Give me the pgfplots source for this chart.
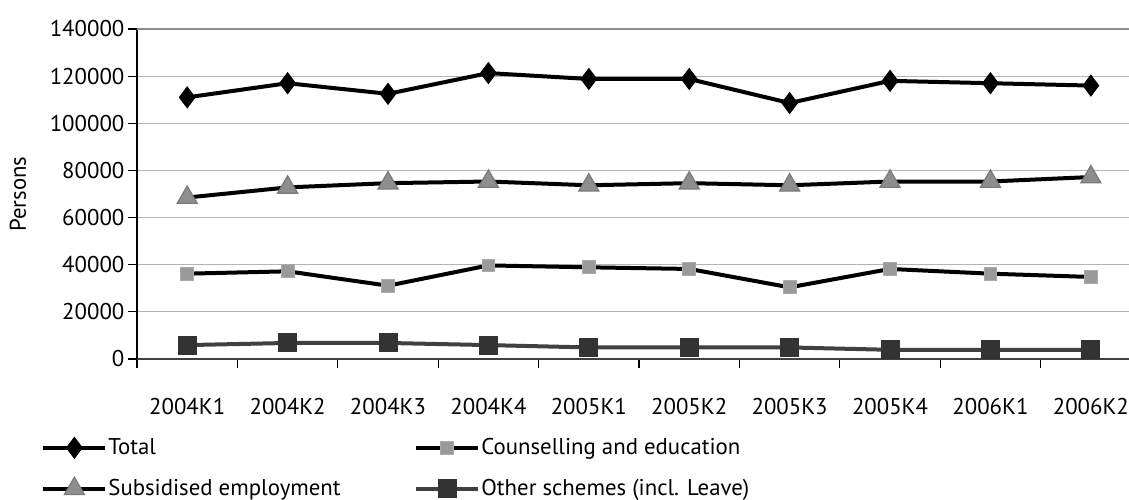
\documentclass[border=0pt]{standalone}
\usepackage{fontspec}
\setmainfont{PT Sans}
\usepackage{pgfplots}
\pgfplotsset{compat=1.18}
\definecolor{gridgray}{HTML}{B4B4B4}
\definecolor{topgray}{HTML}{8C8C8C}
\definecolor{trifill}{HTML}{8E8E8E}
\definecolor{triedge}{HTML}{7A7A7A}
\definecolor{sqfill}{HTML}{9A9A9A}
\definecolor{sqedge}{HTML}{AAAAAA}
\definecolor{darksq}{HTML}{333333}
\definecolor{darkline}{HTML}{404040}
\begin{document}
\begin{tikzpicture}[font=\fontsize{11.4bp}{13.5bp}\selectfont]
\useasboundingbox (-68.5bp,-70.5bp) rectangle (496bp,179.5bp);
\begin{axis}[
  at={(0,0)}, anchor=south west,
  width=496bp, height=165bp, scale only axis,
  xmin=-0.5, xmax=9.38, ymin=0, ymax=140000,
  clip=false,
  ytick={0,20000,40000,60000,80000,100000,120000,140000},
  yticklabels={0,20000,40000,60000,80000,100000,120000,140000},
  xtick={0,...,9},
  xticklabels={2004K1,2004K2,2004K3,2004K4,2005K1,2005K2,2005K3,2005K4,2006K1,2006K2},
  minor xtick={-0.5,0.5,...,8.5},
  major x tick style={draw=none},
  tick align=outside,
  major tick length=4.5bp, minor tick length=4.5bp,
  tick style={black, line width=0.6bp},
  axis x line*=bottom, axis y line*=left,
  x axis line style={draw=darkline, line width=0.8bp, -},
  y axis line style={draw=black, line width=0.8bp, -},
  ymajorgrids, grid style={gridgray, line width=0.6bp},
  scaled ticks=false,
  tick label style={font=\fontsize{11.4bp}{13.5bp}\selectfont},
  xticklabel style={yshift=-11.5bp},
  yticklabel style={xshift=1.7bp},
  ylabel={Persons},
  ylabel style={at={(axis description cs:-0.12,0.5)}, anchor=center, font=\fontsize{11.4bp}{13.5bp}\selectfont},
  legend columns=2,
  legend style={draw=none, fill=none, inner sep=0pt, at={(-48bp,-39bp)}, anchor=north west,
    nodes={inner sep=0pt, font=\fontsize{11.4bp}{13.5bp}\selectfont},
    row sep=9.5bp, /tikz/every odd column/.append style={column sep=0.5bp}},
  legend cell align=left,
  legend image code/.code={\draw[#1, mark repeat=2, mark phase=2] plot coordinates {(0bp,0bp) (15.5bp,0bp) (31bp,0bp)};},
]
\addplot[black, line width=2bp, mark=diamond*, mark size=5.2bp, mark options={fill=black, draw=black, line width=0.5bp, solid}]
  coordinates {(0,111000) (1,117000) (2,112500) (3,121300) (4,118800) (5,118800) (6,108600) (7,118000) (8,117000) (9,116000)};
\addlegendentry{\makebox[153bp][l]{Total}}
\addplot[black, line width=2bp, mark=square*, mark size=3.2bp, mark options={fill=sqfill, draw=sqedge, line width=0.5bp, solid}]
  coordinates {(0,36200) (1,37200) (2,31100) (3,39700) (4,38900) (5,38200) (6,30400) (7,38200) (8,36200) (9,34800)};
\addlegendentry{Counselling and education}
\addplot[black, line width=2bp, mark=triangle*, mark size=5.8bp, mark options={fill=trifill, draw=triedge, line width=0.6bp, solid}]
  coordinates {(0,68500) (1,72800) (2,74600) (3,75300) (4,73700) (5,74600) (6,73700) (7,75300) (8,75300) (9,77200)};
\addlegendentry{\makebox[153bp][l]{Subsidised employment}}
\addplot[darkline, line width=2bp, mark=square*, mark size=4.5bp, mark options={fill=darksq, draw=darksq, line width=0.5bp, solid}]
  coordinates {(0,5900) (1,6800) (2,6800) (3,5900) (4,4900) (5,4900) (6,4900) (7,3900) (8,3900) (9,3900)};
\addlegendentry{Other schemes (incl. Leave)}
\draw[topgray, line width=0.8bp] (axis cs:-0.5,140000) -- (axis cs:9.38,140000);
\end{axis}
\end{tikzpicture}
\end{document}
